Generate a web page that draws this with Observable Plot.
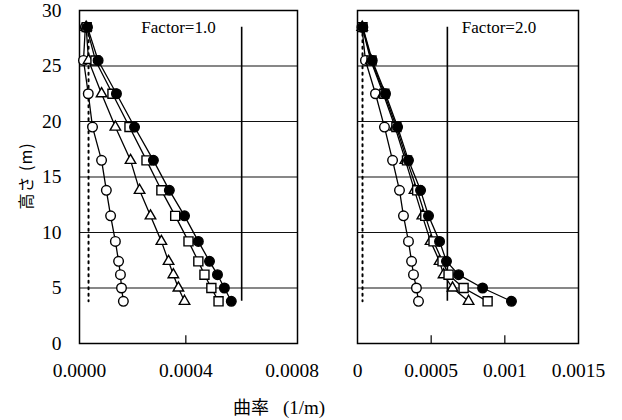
<!DOCTYPE html>
<html><head><meta charset="utf-8">
<script src="https://cdn.jsdelivr.net/npm/d3@7"></script>
<script src="https://cdn.jsdelivr.net/npm/@observablehq/plot@0.6"></script>
<style>
body{margin:0;background:#fff;}
#wrap{position:relative;width:622px;height:420px;overflow:hidden;background:#fff;}
.panel{position:absolute;top:0;}
#ylab{position:absolute;left:25px;top:176px;transform:translate(-50%,-50%) rotate(-90deg);white-space:nowrap;font-family:"Noto Sans CJK JP";font-size:16px;color:#000;letter-spacing:1px;}
#xlab{position:absolute;left:279px;top:406px;transform:translate(-50%,-50%);white-space:nowrap;color:#000;}
#xlab .jp{font-family:"Noto Sans CJK JP";font-size:18px;}
#xlab .en{font-family:"Liberation Serif";font-size:19px;margin-left:14px;}
</style></head><body>
<div id="wrap">
  <div id="left" class="panel" style="left:0px"></div>
  <div id="right" class="panel" style="left:320px"></div>
  <div id="ylab">高さ (m)</div>
  <div id="xlab"><span class="jp">曲率</span><span class="en">(1/m)</span></div>
</div>
<script>
// Heights (m) of measurement points
const heights = [28.5, 25.5, 22.5, 19.5, 16.5, 13.8, 11.5, 9.2, 7.4, 6.2, 5.0, 3.8];

// Factor = 1.0 curvatures (1/m)
const f1Circle   = [0.000022, 0.000015, 0.000033, 0.000049, 0.000083, 0.000101, 0.000117, 0.000135, 0.000147, 0.000154, 0.000158, 0.000165];
const f1Triangle = [0.000025, 0.000034, 0.000083, 0.000135, 0.000192, 0.000226, 0.000267, 0.000308, 0.000335, 0.000353, 0.000372, 0.000395];
const f1Square   = [0.000027, 0.000060, 0.000124, 0.000188, 0.000252, 0.000308, 0.000360, 0.000410, 0.000447, 0.000470, 0.000496, 0.000523];
const f1Filled   = [0.000030, 0.000070, 0.000139, 0.000207, 0.000278, 0.000338, 0.000395, 0.000447, 0.000489, 0.000519, 0.000545, 0.000571];

// Factor = 2.0 curvatures (1/m)
const f2Circle   = [0.000030, 0.000054, 0.000122, 0.000183, 0.000238, 0.000285, 0.000312, 0.000346, 0.000367, 0.000380, 0.000400, 0.000414];
const f2Triangle = [0.000032, 0.000090, 0.000175, 0.000255, 0.000325, 0.000387, 0.000440, 0.000496, 0.000557, 0.000584, 0.000645, 0.000754];
const f2Square   = [0.000034, 0.000095, 0.000182, 0.000264, 0.000336, 0.000405, 0.000460, 0.000516, 0.000577, 0.000618, 0.000720, 0.000883];
const f2Filled   = [0.000036, 0.000100, 0.000190, 0.000272, 0.000346, 0.000428, 0.000482, 0.000557, 0.000604, 0.000686, 0.000849, 0.001045];

// Reference lines
const crackCurvature = 0.000034;   // dotted line
const yieldCurvature = 0.00061;    // solid vertical line

// Axes
const yTicks = [0, 5, 10, 15, 20, 25, 30];
const yGrid = [5, 10, 15, 20, 25];
const leftTicks = [0, 0.0004, 0.0008];
const leftTickLabels = ["0.0000", "0.0004", "0.0008"];
const rightTicks = [0, 0.0005, 0.001, 0.0015];
const rightTickLabels = ["0", "0.0005", "0.001", "0.0015"];
const panelTitles = ["Factor=1.0", "Factor=2.0"];

const seriesDefs = [
  {key: "circle", symbol: "circle", fill: "#fff", r: 4.8},
  {key: "triangle", symbol: "triangle", fill: "#fff", r: 3.9},
  {key: "square", symbol: "square", fill: "#fff", r: 5.1},
  {key: "filled", symbol: "circle", fill: "#000", r: 4.8}
];

function rows(arrs) {
  const out = [];
  seriesDefs.forEach((s, si) => {
    arrs[si].forEach((x, i) => out.push({series: s.key, x, y: heights[i]}));
  });
  return out;
}

function panel({data, xDomain, ticks, labels, title, titleDx, width, marginLeft, marginRight, showY}) {
  const labelMap = new Map(ticks.map((t, i) => [t, labels[i]]));
  const inner = ticks.slice(1, -1);
  const refRows = [{x: crackCurvature, y: heights[0]}, {x: crackCurvature, y: heights[heights.length - 1]}];
  const marks = [
    Plot.ruleY(yGrid, {stroke: "#111", strokeWidth: 1.1}),
    Plot.ruleX(inner, {y1: 0, y2: 0.7, stroke: "#000", strokeWidth: 1.2}),
    Plot.ruleX([yieldCurvature], {y1: heights[heights.length - 1], y2: heights[0], stroke: "#000", strokeWidth: 1.6}),
    Plot.line(refRows, {x: "x", y: "y", stroke: "#000", strokeWidth: 2, strokeDasharray: "2,4.5"}),
    Plot.frame({stroke: "#000", strokeWidth: 1.5})
  ];
  seriesDefs.forEach(s => {
    const d = data.filter(r => r.series === s.key);
    marks.push(Plot.line(d, {x: "x", y: "y", stroke: "#000", strokeWidth: 1.3}));
  });
  seriesDefs.forEach(s => {
    const d = data.filter(r => r.series === s.key);
    marks.push(Plot.dot(d, {x: "x", y: "y", symbol: () => s.symbol, r: s.r, fill: s.fill, stroke: "#000", strokeWidth: 1.4}));
  });
  marks.push(Plot.text([title], {text: d => d, frameAnchor: "top", dx: titleDx, dy: 10, fontSize: 17, fontFamily: "Liberation Serif", fill: "#000", style: "letter-spacing:-0.6px"}));
  return Plot.plot({
    width, height: 393,
    marginLeft, marginRight, marginTop: 10, marginBottom: 50,
    style: {fontFamily: "Liberation Serif", fontSize: "19.5px", color: "#000", background: "transparent", overflow: "visible"},
    x: {domain: xDomain, ticks, tickFormat: d => labelMap.get(d), tickSize: 0, tickPadding: 20, label: null},
    y: showY ? {domain: [0, 30], ticks: yTicks, tickSize: 0, tickPadding: 18, label: null} : {domain: [0, 30], axis: null},
    marks
  });
}

document.getElementById("left").appendChild(panel({
  data: rows([f1Circle, f1Triangle, f1Square, f1Filled]),
  xDomain: [0, 0.00082], ticks: leftTicks, labels: leftTickLabels,
  title: panelTitles[0], titleDx: -10, width: 310, marginLeft: 79, marginRight: 13, showY: true
}));
document.getElementById("right").appendChild(panel({
  data: rows([f2Circle, f2Triangle, f2Square, f2Filled]),
  xDomain: [0, 0.0015], ticks: rightTicks, labels: rightTickLabels,
  title: panelTitles[1], titleDx: 31, width: 302, marginLeft: 37, marginRight: 44, showY: false
}));
</script>
</body></html>
